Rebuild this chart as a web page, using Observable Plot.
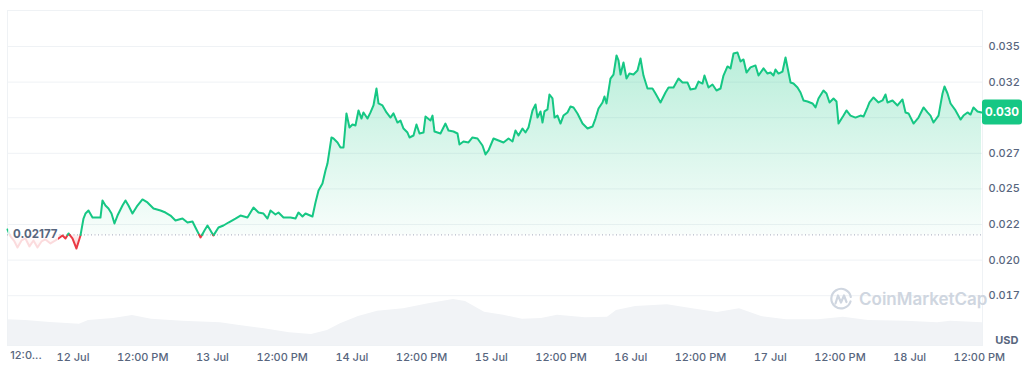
<!DOCTYPE html>
<html>
<head>
<meta charset="utf-8">
<script src="https://cdn.jsdelivr.net/npm/d3@7"></script>
<script src="https://cdn.jsdelivr.net/npm/@observablehq/plot@0.6"></script>
<style>
  body { margin: 0; background: #fff; }
  #wrap { position: relative; width: 1024px; height: 366px; overflow: hidden; background: #fff; }
  #wrap svg.layer { position: absolute; left: 0; top: 0; }
  #wm { position: absolute; left: 829px; top: 287px; display: flex; align-items: center; gap: 6px;
        font-family: Inter, sans-serif; font-weight: 600; font-size: 17px; color: #cfd6e0; }
</style>
</head>
<body>
<div id="wrap">
  <div id="wm"><svg width="24" height="24" viewBox="0 0 24 24"><path d="M21.5 14.5A9.8 9.8 0 1 1 21.8 10" fill="none" stroke="#cfd6e0" stroke-width="2.2" stroke-linecap="round"/><path d="M6.5 16.5L9 8.5l3 7 3-7 2.5 6.5" fill="none" stroke="#cfd6e0" stroke-width="2.2" stroke-linejoin="round" stroke-linecap="round"/></svg><span>CoinMarketCap</span></div>
</div>
<script>
// ---- data: hours since 12 Jul 00:00 ----
const hours = [-11.27,-10.76,-10.07,-9.55,-8.86,-8.18,-7.49,-6.80,-6.11,-5.42,-4.73,-3.87,-3.01,-2.50,-1.81,-1.29,-0.77,-0.09,0.60,1.29,1.81,2.15,2.67,3.36,4.22,4.73,5.08,5.59,6.11,6.63,7.14,7.66,8.52,9.04,9.55,10.24,11.10,11.96,12.82,13.86,15.06,15.92,16.78,17.64,18.85,19.71,20.57,21.08,21.95,22.63,23.15,23.67,24.18,25.04,25.90,26.76,27.97,28.83,30.03,31.07,31.93,32.79,33.48,33.99,34.85,35.37,36.23,37.44,38.30,38.81,39.50,40.02,41.22,41.74,42.26,42.94,43.46,43.80,44.49,44.84,45.53,46.04,46.56,47.07,47.59,48.11,48.62,49.14,49.66,50.00,50.69,51.21,51.72,52.24,52.58,53.27,53.96,54.65,55.16,55.85,56.37,56.89,57.57,57.92,58.61,59.12,59.64,60.33,60.67,61.53,61.88,62.22,63.25,64.11,64.63,65.49,66.18,66.52,67.21,68.07,68.76,69.62,70.48,71.00,71.52,72.38,73.24,74.10,74.96,75.65,76.16,76.68,77.37,77.88,78.40,79.09,79.61,79.95,80.47,80.81,81.15,81.67,82.01,82.53,82.88,83.39,83.91,84.42,85.11,85.63,86.15,86.83,87.70,88.56,89.42,89.93,90.45,91.14,91.48,91.83,92.51,93.03,93.55,93.89,94.24,94.75,95.27,95.78,96.47,97.16,97.68,98.19,98.88,99.74,100.26,101.12,101.98,102.50,103.36,104.22,104.91,105.77,106.28,107.14,107.66,108.35,108.69,109.38,110.07,110.76,111.45,111.96,112.65,113.17,113.69,114.37,114.89,115.41,115.92,116.61,117.47,117.99,118.85,119.54,120.05,120.57,120.91,121.43,122.12,122.64,122.98,123.50,124.01,124.70,125.22,125.73,126.42,127.28,127.80,128.31,129.17,129.69,130.21,130.90,131.41,131.76,132.62,133.13,133.82,134.68,135.54,136.06,136.75,137.09,137.78,138.64,139.33,139.85,140.19,141.05,141.91,142.77,143.29,143.81,144.67,145.53,146.39,147.08,147.59,148.11,148.97,149.66,150.00,150.52,151.04,151.90,152.76,153.27,153.96,154.48,154.99,155.68,156.37];
const prices = [0.02215,0.02166,0.02131,0.02088,0.02138,0.02152,0.02096,0.02138,0.02088,0.02131,0.02145,0.02117,0.02138,0.02152,0.02173,0.02152,0.02187,0.02152,0.02081,0.02173,0.02292,0.02327,0.02348,0.02299,0.02299,0.02299,0.02419,0.02383,0.02362,0.02327,0.02257,0.02313,0.02383,0.02419,0.02383,0.02327,0.02383,0.02426,0.02405,0.02362,0.02348,0.02334,0.02313,0.02278,0.02292,0.02264,0.02271,0.02229,0.02159,0.02208,0.02243,0.02208,0.02173,0.02229,0.02243,0.02264,0.02292,0.02313,0.02299,0.02369,0.02334,0.02327,0.02292,0.02348,0.02320,0.02334,0.02299,0.02299,0.02292,0.02334,0.02306,0.02327,0.02306,0.02405,0.02489,0.02538,0.02629,0.02678,0.02861,0.02854,0.02826,0.02791,0.02791,0.03030,0.02931,0.02952,0.02945,0.03051,0.02994,0.03037,0.02994,0.03037,0.03086,0.03205,0.03100,0.03086,0.03037,0.03001,0.03030,0.02966,0.02980,0.02924,0.02896,0.02861,0.02875,0.02952,0.02889,0.02896,0.03008,0.02980,0.03015,0.02903,0.02889,0.02959,0.02910,0.02903,0.02889,0.02812,0.02833,0.02826,0.02861,0.02854,0.02805,0.02742,0.02770,0.02854,0.02840,0.02826,0.02854,0.02833,0.02910,0.02875,0.02924,0.02896,0.02931,0.03051,0.03093,0.03001,0.03044,0.02966,0.03044,0.03058,0.03163,0.03135,0.03001,0.03015,0.02959,0.03015,0.03037,0.03079,0.03072,0.03030,0.02959,0.02924,0.02938,0.02994,0.03065,0.03107,0.03149,0.03100,0.03275,0.03303,0.03437,0.03402,0.03303,0.03388,0.03275,0.03310,0.03303,0.03331,0.03416,0.03296,0.03205,0.03205,0.03170,0.03107,0.03177,0.03212,0.03212,0.03275,0.03247,0.03247,0.03198,0.03205,0.03254,0.03240,0.03296,0.03212,0.03233,0.03191,0.03205,0.03296,0.03360,0.03346,0.03451,0.03458,0.03395,0.03409,0.03317,0.03353,0.03367,0.03296,0.03346,0.03310,0.03317,0.03296,0.03338,0.03310,0.03324,0.03423,0.03353,0.03247,0.03240,0.03212,0.03177,0.03121,0.03114,0.03100,0.03072,0.03135,0.03191,0.03170,0.03107,0.03135,0.03114,0.02959,0.03015,0.03051,0.03015,0.03001,0.03015,0.03008,0.03072,0.03107,0.03142,0.03107,0.03121,0.03163,0.03107,0.03121,0.03086,0.03128,0.03037,0.03030,0.02959,0.03001,0.03072,0.03037,0.03015,0.02966,0.03015,0.03170,0.03219,0.03170,0.03100,0.03051,0.02987,0.03015,0.03037,0.03022,0.03072,0.03044,0.03037];
const volHours = [-11.27,-8.18,-3.87,1.12,2.67,6.97,10.24,13.51,18.85,25.39,28.66,32.96,37.26,41.05,43.80,46.04,49.14,52.41,56.89,61.19,65.49,67.56,70.83,74.10,77.37,80.64,83.39,88.21,92.00,93.55,96.82,102.33,106.63,110.93,114.72,118.50,122.81,128.31,132.62,136.92,143.46,148.80,151.04,156.54];
const volumes = [25.7,25,23,21.3,25,27,30,26.3,24.3,22.7,20,16.7,12.7,11,15,21.7,29,34.3,36.7,41.7,46,44,33.3,30.3,26.3,27,30.3,27.7,28.3,35,39,40.7,36.7,33,36.7,29,25.7,25.7,28.3,25,24.3,22.7,24.3,22.7];
const baseline = 0.02177;
const baselineLabel = "0.02177";
const currentLabel = "0.030";
const xTickHours = [0,12,24,36,48,60,72,84,96,108,120,132,144,156];
const xTickLabels = ["12 Jul","12:00 PM","13 Jul","12:00 PM","14 Jul","12:00 PM","15 Jul","12:00 PM","16 Jul","12:00 PM","17 Jul","12:00 PM","18 Jul","12:00 PM"];
const firstTickHour = -12;
const firstTickLabel = "12:0...";
const gridValues = [0.0175,0.0200,0.0225,0.0250,0.0275,0.0300,0.0325,0.0350];
// the 0.030 tick label sits under the current-price badge, so it is not drawn
const yTicks = [0.0175,0.0200,0.0225,0.0250,0.0275,0.0325,0.0350];
const yTickLabels = ["0.017","0.020","0.022","0.025","0.027","0.032","0.035"];

const GREEN = "#16c784", RED = "#ea3943", GREY = "#58667e";
const W = 1024, H = 366;
const margins = {marginLeft: 7, marginRight: 42, marginTop: 10, marginBottom: 21};
const xDomain = [-11.27, 156.54];
const yDomain = [0.014003, 0.037528];

// split the line where it crosses the baseline
const pts = [];
const segUp = [];
let seg = 0;
for (let i = 0; i < hours.length; i++) {
  const h = hours[i], v = prices[i];
  if (i > 0) {
    const ph = hours[i-1], pv = prices[i-1];
    if ((pv - baseline) * (v - baseline) < 0) {
      const t = ph + (baseline - pv) / (v - pv) * (h - ph);
      pts.push({h: t, v: baseline, seg});
      seg++;
      pts.push({h: t, v: baseline, seg});
    }
  }
  segUp[seg] = v >= baseline;
  pts.push({h, v, seg});
}

const vol = volHours.map((h, i) => ({h, vol: volumes[i]}));
const wrap = document.getElementById("wrap");

// volume layer (own y scale)
const volPlot = Plot.plot({
  width: W, height: H, ...margins,
  style: {background: "transparent"},
  x: {domain: xDomain, axis: null},
  y: {domain: [0, 335], axis: null},
  marks: [
    Plot.areaY(vol, {x: "h", y: "vol", fill: "#f1f3f6"})
  ]
});
volPlot.classList.add("layer");
wrap.insertBefore(volPlot, wrap.firstChild);

const chart = Plot.plot({
  width: W, height: H, ...margins,
  style: {background: "transparent", fontFamily: "Inter, sans-serif", fontSize: "11px", color: GREY, fontWeight: 500},
  x: {domain: xDomain, ticks: xTickHours, tickFormat: d => xTickLabels[xTickHours.indexOf(d)], tickSize: 0, tickPadding: 8, label: null},
  y: {domain: yDomain, axis: "right", ticks: yTicks, tickFormat: d => yTickLabels[yTicks.indexOf(d)], tickSize: 0, tickPadding: 6, label: null},
  marks: [
    Plot.frame({stroke: "#eff2f5"}),
    Plot.ruleY(gridValues, {stroke: "#eff2f5", strokeWidth: 1}),
    Plot.areaY(pts, {x: "h", y1: () => baseline, y2: d => Math.max(d.v, baseline), fill: "url(#gUp)"}),
    Plot.areaY(pts, {x: "h", y1: () => baseline, y2: d => Math.min(d.v, baseline), fill: "url(#gDown)"}),
    Plot.ruleY([baseline], {stroke: "#a1a7bb", strokeWidth: 1, strokeDasharray: "1,2.5"}),
    Plot.line(pts, {x: "h", y: "v", z: "seg", stroke: d => segUp[d.seg] ? GREEN : RED, strokeWidth: 2, strokeLinejoin: "round"}),
    Plot.text([firstTickHour], {x: d => d, frameAnchor: "bottom", dy: 13, dx: 7, textAnchor: "start", text: () => firstTickLabel, fill: GREY}),
    Plot.text(["USD"], {frameAnchor: "bottom-right", dx: 36, dy: -2, textAnchor: "end", text: d => d, fill: GREY, fontWeight: 700, fontSize: 11})
  ]
});
chart.classList.add("layer");
wrap.insertBefore(chart, document.getElementById("wm"));

// gradients
const svg = d3.select(chart);
const defs = svg.insert("defs", ":first-child");
const gu = defs.append("linearGradient").attr("id", "gUp").attr("x1", 0).attr("y1", 0).attr("x2", 0).attr("y2", 1);
gu.append("stop").attr("offset", "0%").attr("stop-color", GREEN).attr("stop-opacity", 0.3);
gu.append("stop").attr("offset", "100%").attr("stop-color", GREEN).attr("stop-opacity", 0.03);
const gd = defs.append("linearGradient").attr("id", "gDown").attr("x1", 0).attr("y1", 0).attr("x2", 0).attr("y2", 1);
gd.append("stop").attr("offset", "0%").attr("stop-color", RED).attr("stop-opacity", 0.05);
gd.append("stop").attr("offset", "100%").attr("stop-color", RED).attr("stop-opacity", 0.3);

// baseline label & current price badge positioned with the plot's scales
const ys = chart.scale("y"), xs = chart.scale("x");
const by = ys.apply(baseline);
const left = xs.apply(xDomain[0]);
const right = xs.apply(xDomain[1]);
const gL = svg.append("g");
gL.append("rect").attr("x", left + 1).attr("y", by - 8).attr("width", 50).attr("height", 24).attr("fill", "#fff").attr("fill-opacity", 0.82);
gL.append("text").attr("x", left + 6).attr("y", by).attr("dy", "0.35em").attr("text-anchor", "start").attr("fill", GREY)
  .attr("font-weight", 700).attr("font-size", 11.5).attr("font-family", "Inter, sans-serif").text(baselineLabel);

const cy = ys.apply(prices[prices.length - 1]);
const gB = svg.append("g");
gB.append("rect").attr("x", right).attr("y", cy - 12.5).attr("width", 40).attr("height", 25).attr("rx", 3).attr("fill", GREEN);
gB.append("text").attr("x", right + 20).attr("y", cy).attr("dy", "0.35em").attr("text-anchor", "middle").attr("fill", "#fff")
  .attr("font-weight", 700).attr("font-size", 11.5).attr("font-family", "Inter, sans-serif").text(currentLabel);
</script>
</body>
</html>
